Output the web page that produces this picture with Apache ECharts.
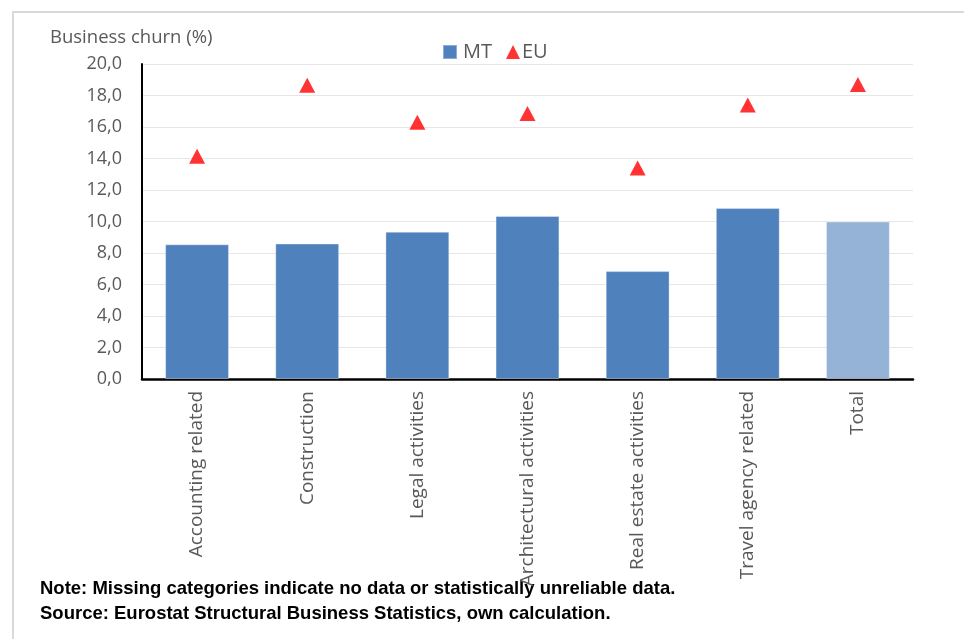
<!DOCTYPE html>
<html>
<head>
<meta charset="utf-8">
<title>Business churn (%)</title>
<script src="https://cdn.jsdelivr.net/npm/echarts@6/dist/echarts.min.js"></script>
<style>
  html, body { margin: 0; padding: 0; background: #ffffff; }
  #chart { width: 964px; height: 639px; }
</style>
</head>
<body>
<div id="chart"></div>
<script>
// Sector categories along the x axis
const categories = [
  'Accounting related',
  'Construction',
  'Legal activities',
  'Architectural activities',
  'Real estate activities',
  'Travel agency related',
  'Total'
];

// Business churn rate (%) for Malta
const mtValues = [8.55, 8.6, 9.35, 10.35, 6.85, 10.85, 10.0];

// Business churn rate (%) for the EU
const euValues = [14.15, 18.65, 16.3, 16.85, 13.4, 17.4, 18.7];

// Value axis ticks
const yTicks = [0, 2, 4, 6, 8, 10, 12, 14, 16, 18, 20];

const noteLines = [
  'Note: Missing categories indicate no data or statistically unreliable data.',
  'Source: Eurostat Structural Business Statistics, own calculation.'
];

const grey = '#595959';
const barBlue = '#4f81bd';
const barLight = '#95b3d7';
const markerRed = '#ff0000';
const fontMain = '"Open Sans", "Liberation Sans", sans-serif';
const fontNote = '"Liberation Sans", sans-serif';

const chart = echarts.init(document.getElementById('chart'), null, { renderer: 'canvas' });

chart.setOption({
  animation: false,
  backgroundColor: '#ffffff',
  textStyle: { fontFamily: fontMain },
  legend: {
    top: 37,
    left: 437,
    itemWidth: 14,
    itemHeight: 14,
    itemGap: 14,
    textStyle: { color: grey, fontSize: 20, fontFamily: fontMain },
    data: [
      { name: 'MT', icon: 'rect', itemStyle: { color: barBlue }, textStyle: { padding: [0, 0, 0, 1] } },
      { name: 'EU', icon: 'triangle', itemStyle: { color: markerRed }, textStyle: { padding: [0, 0, 0, -3] } }
    ]
  },
  grid: { left: 142, right: 51, top: 64, bottom: 260 },
  xAxis: {
    type: 'category',
    data: categories,
    axisLine: { show: true, lineStyle: { color: '#000000', width: 2.5 } },
    axisTick: { show: false },
    axisLabel: {
      rotate: 90,
      interval: 0,
      margin: 12,
      color: grey,
      fontSize: 19,
      fontFamily: fontMain
    }
  },
  yAxis: {
    type: 'value',
    min: yTicks[0],
    max: yTicks[yTicks.length - 1],
    interval: yTicks[1] - yTicks[0],
    name: 'Business churn (%)',
    nameLocation: 'end',
    nameGap: 17,
    nameTextStyle: { color: grey, fontSize: 18.5, align: 'left', padding: [0, 0, 0, -92], fontFamily: fontMain },
    axisLine: { show: true, lineStyle: { color: '#000000', width: 2 } },
    axisTick: { show: false },
    splitLine: { lineStyle: { color: '#e6e6e6', width: 1 } },
    axisLabel: {
      color: grey,
      fontSize: 18,
      margin: 20,
      fontFamily: fontMain,
      formatter: v => v.toFixed(1).replace('.', ',')
    }
  },
  series: [
    {
      name: 'MT',
      type: 'bar',
      data: mtValues,
      barWidth: '58%',
      itemStyle: {
        color: p => (p.dataIndex === categories.length - 1 ? barLight : barBlue),
        borderColor: 'rgba(255,255,255,0.35)',
        borderWidth: 1
      },
      z: 2
    },
    {
      name: 'EU',
      type: 'scatter',
      data: euValues,
      symbol: 'triangle',
      symbolSize: [16, 15],
      itemStyle: { color: markerRed },
      z: 3
    }
  ],
  graphic: [
    {
      type: 'rect',
      shape: { x: 13, y: 12, width: 1000, height: 700 },
      style: { fill: 'none', stroke: '#d9d9d9', lineWidth: 2 },
      silent: true,
      z: -10
    },
    {
      type: 'text',
      left: 40,
      top: 579,
      style: { text: noteLines[0], fill: '#000000', font: 'bold 18.5px ' + fontNote }
    },
    {
      type: 'text',
      left: 40,
      top: 604,
      style: { text: noteLines[1], fill: '#000000', font: 'bold 18.5px ' + fontNote }
    }
  ]
});
</script>
</body>
</html>
